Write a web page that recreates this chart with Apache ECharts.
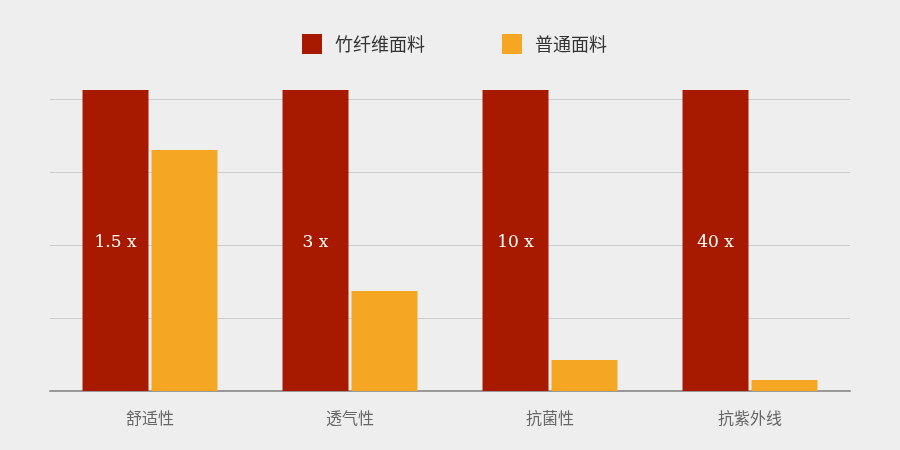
<!DOCTYPE html>
<html>
<head>
<meta charset="utf-8">
<script src="https://cdn.jsdelivr.net/npm/echarts@6/dist/echarts.min.js"></script>
<style>
html, body { margin: 0; padding: 0; background: #eeeeee; }
</style>
</head>
<body>
<div id="chart" style="width:900px;height:450px;"></div>
<script type="text/javascript">
var categories = ['舒适性', '透气性', '抗菌性', '抗紫外线'];
var bambooValues = [103, 103, 103, 103];
var normalValues = [82.5, 34.2, 10.6, 3.8];
var bambooLabels = ['1.5 x', '3 x', '10 x', '40 x'];

var myChart = echarts.init(document.getElementById('chart'));
var option = {
    backgroundColor: '#eeeeee',
    legend: {
        top: 29,
        left: 297,
        itemWidth: 20,
        itemHeight: 20,
        itemGap: 77,
        icon: 'rect',
        textStyle: {
            fontSize: 18,
            color: '#333',
            fontFamily: 'Noto Sans CJK SC',
            padding: [0, 0, 0, 8]
        },
        data: ['竹纤维面料', '普通面料']
    },
    grid: {
        left: 50,
        right: 50,
        top: 90,
        bottom: 59
    },
    xAxis: {
        type: 'category',
        data: categories,
        axisTick: { show: false },
        axisLine: { lineStyle: { color: '#999', width: 2 } },
        axisLabel: {
            color: '#666',
            fontSize: 16,
            margin: 19,
            fontFamily: 'Noto Sans CJK SC'
        }
    },
    yAxis: {
        type: 'value',
        min: 0,
        max: 103,
        interval: 25,
        axisLabel: { show: false },
        axisLine: { show: false },
        axisTick: { show: false },
        splitLine: {
            showMaxLine: false,
            lineStyle: { color: '#cccccc', width: 1 }
        }
    },
    series: [
        {
            name: '竹纤维面料',
            type: 'bar',
            data: bambooValues,
            barWidth: 66,
            barGap: '4.5%',
            itemStyle: { color: '#a81a00' },
            label: {
                show: true,
                position: 'inside',
                offset: [0, 2],
                color: '#fff',
                fontSize: 17,
                fontFamily: 'DejaVu Serif',
                formatter: function (p) { return bambooLabels[p.dataIndex]; }
            }
        },
        {
            name: '普通面料',
            type: 'bar',
            data: normalValues,
            barWidth: 66,
            itemStyle: { color: '#f5a623' }
        }
    ]
};
myChart.setOption(option);
</script>
</body>
</html>
